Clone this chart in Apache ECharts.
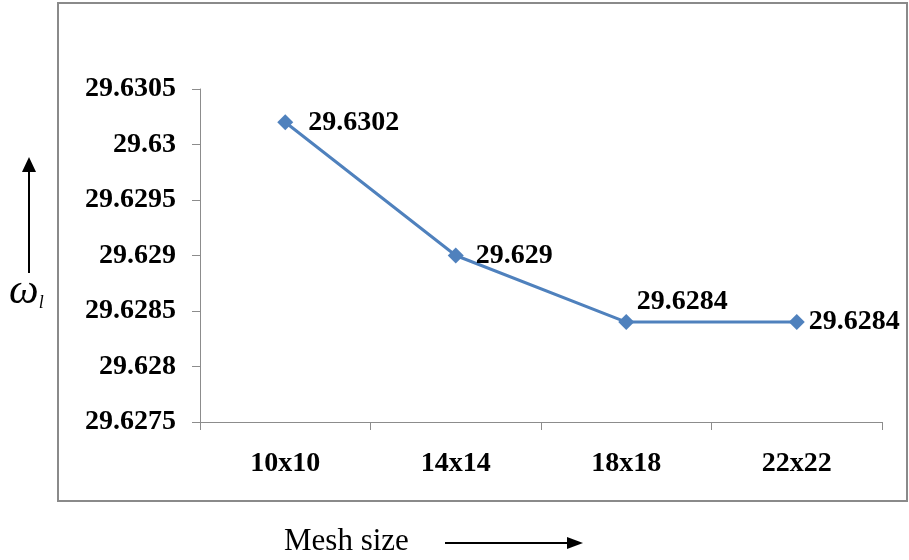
<!DOCTYPE html>
<html>
<head>
<meta charset="utf-8">
<script src="https://cdn.jsdelivr.net/npm/echarts@6/dist/echarts.min.js"></script>
<style>
  html, body { margin: 0; padding: 0; background: #fff; }
  #chart { width: 909px; height: 560px; }
</style>
</head>
<body>
<div id="chart"></div>
<script>
// Convergence of the frequency parameter with mesh refinement
const meshSizes = ['10x10', '14x14', '18x18', '22x22'];
const omegaValues = [29.6302, 29.629, 29.6284, 29.6284];
const yMin = 29.6275;
const yMax = 29.6305;
const yStep = 0.0005;

const serif = '"Liberation Serif", "DejaVu Serif", serif';
const lineColor = '#4F81BD';

// label placement per point (third label sits above its marker)
const labelPlacement = [
  { position: 'right', distance: 15 },
  { position: 'right', distance: 12 },
  { position: 'top', distance: 0, offset: [56, 2] },
  { position: 'right', distance: 4 }
];

const seriesData = omegaValues.map((v, i) => ({
  value: v,
  label: labelPlacement[i]
}));

const chart = echarts.init(document.getElementById('chart'));
chart.setOption({
  animation: false,
  backgroundColor: '#fff',
  grid: { left: 200, right: 27, top: 89, bottom: 138, containLabel: false },
  xAxis: {
    type: 'category',
    data: meshSizes,
    boundaryGap: true,
    axisLine: { lineStyle: { color: '#8c8c8c', width: 1 } },
    axisTick: { show: true, length: 8, lineStyle: { color: '#8c8c8c' } },
    axisLabel: {
      margin: 28,
      fontFamily: serif,
      fontWeight: 'bold',
      fontSize: 28,
      color: '#000'
    },
    splitLine: { show: false }
  },
  yAxis: {
    type: 'value',
    min: yMin,
    max: yMax,
    interval: yStep,
    axisLine: { show: true, lineStyle: { color: '#8c8c8c', width: 1 } },
    axisTick: { show: true, length: 8, lineStyle: { color: '#8c8c8c' } },
    axisLabel: {
      margin: 24,
      fontFamily: serif,
      fontWeight: 'bold',
      fontSize: 28,
      color: '#000',
      formatter: v => String(Number(v.toFixed(4)))
    },
    splitLine: { show: false }
  },
  series: [{
    type: 'line',
    data: seriesData,
    symbol: 'diamond',
    symbolSize: 16,
    itemStyle: { color: lineColor },
    lineStyle: { color: lineColor, width: 3 },
    label: {
      show: true,
      fontFamily: serif,
      fontWeight: 'bold',
      fontSize: 28,
      color: '#000',
      formatter: p => String(p.value)
    }
  }],
  graphic: [
    // outer chart frame
    {
      type: 'rect',
      shape: { x: 58, y: 3, width: 849, height: 498 },
      style: { fill: 'none', stroke: '#8a8a8a', lineWidth: 2 },
      z: 0
    },
    // vertical axis-direction arrow
    {
      type: 'line',
      shape: { x1: 29, y1: 273, x2: 29, y2: 168 },
      style: { stroke: '#000', lineWidth: 2 }
    },
    {
      type: 'polygon',
      shape: { points: [[29, 157], [22, 172], [36, 172]] },
      style: { fill: '#000' }
    },
    // y-axis symbol ω_l
    {
      type: 'text',
      left: 9,
      top: 271,
      style: {
        text: '{w|ω}{s|l}',
        rich: {
          w: { fontFamily: serif, fontStyle: 'italic', fontSize: 42, fill: '#000' },
          s: { fontFamily: serif, fontStyle: 'italic', fontSize: 18, fill: '#000', padding: [22, 0, 0, 0] }
        }
      }
    },
    // x-axis title and arrow
    {
      type: 'text',
      left: 284,
      top: 526,
      style: {
        text: 'Mesh size',
        fontFamily: serif,
        fontSize: 31,
        fill: '#000'
      }
    },
    {
      type: 'line',
      shape: { x1: 445, y1: 543, x2: 570, y2: 543 },
      style: { stroke: '#000', lineWidth: 2 }
    },
    {
      type: 'polygon',
      shape: { points: [[583, 543], [567, 537], [567, 549]] },
      style: { fill: '#000' }
    }
  ]
});
</script>
</body>
</html>
